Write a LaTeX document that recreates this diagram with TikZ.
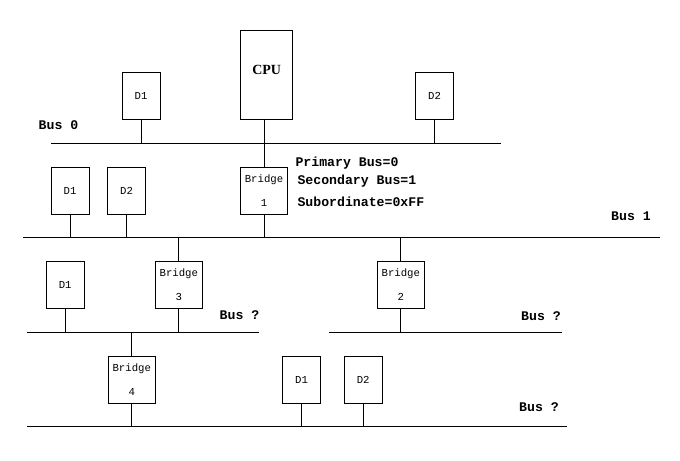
\documentclass[tikz,border=0pt]{standalone}
\usepackage{fontspec}
\setmainfont{Liberation Serif}
\setmonofont{Liberation Mono}
\usepackage{tikz}
\tikzset{dev/.style={draw, minimum width=28.5pt, minimum height=35.25pt, inner sep=0pt,
   font=\ttfamily\fontsize{8}{9}\selectfont},
 bridgebox/.style={dev, minimum width=35.25pt, align=center},
 cpubox/.style={draw, minimum width=39pt, minimum height=67pt, inner sep=0pt,
   text depth=7pt, font=\bfseries\fontsize{10.5}{13}\selectfont},
 buslabel/.style={inner sep=0pt, font=\ttfamily\bfseries\fontsize{9.9}{11}\selectfont},
 }

\begin{document}
\begin{tikzpicture}[x=0.75pt, y=-0.75pt, line width=0.75pt]
    \useasboundingbox (0,0) rectangle (680,460);
    \coordinate (bus0l) at (51,143.3);
    \coordinate (bus0r) at (501,143.3);
    \coordinate (bus1l) at (23,237.7);
    \coordinate (bus1r) at (660,237.7);
    \coordinate (bus3l) at (27,332);
    \coordinate (bus3r) at (259.3,332);
    \coordinate (bus2l) at (329.3,332);
    \coordinate (bus2r) at (561.7,332);
    \coordinate (bus4l) at (27,426);
    \coordinate (bus4r) at (566.7,426);
    \draw (bus0l) -- (bus0r);
    \draw (bus1l) -- (bus1r);
    \draw (bus3l) -- (bus3r);
    \draw (bus2l) -- (bus2r);
    \draw (bus4l) -- (bus4r);

    \node[cpubox] (cpu) at (266.7,74.7) {CPU};
    \node[dev] (d1a) at (141,95.5) {D1};
    \node[dev] (d2a) at (434.5,95.8) {D2};
    \node[bridgebox] (br1) at (264,190.7) {Bridge\\[9pt]1};
    \node[dev] (d1b) at (70,190.5) {D1};
    \node[dev] (d2b) at (126.5,190.5) {D2};
    \node[dev] (d1c) at (65.2,284.8) {D1};
    \node[bridgebox] (br3) at (178.8,284.8) {Bridge\\[9pt]3};
    \node[bridgebox] (br2) at (400.8,284.8) {Bridge\\[9pt]2};
    \node[bridgebox] (br4) at (131.8,380) {Bridge\\[9pt]4};
    \node[dev] (d1d) at (301.5,380) {D1};
    \node[dev] (d2d) at (363.2,380) {D2};

    \draw (d1a.south) -- (d1a.south |- bus0l);
    \draw (d2a.south) -- (d2a.south |- bus0l);
    \draw (br1.north) -- (br1.north |- cpu.south);
    \draw (br1.south) -- (br1.south |- bus1l);
    \draw (d1b.south) -- (d1b.south |- bus1l);
    \draw (d2b.south) -- (d2b.south |- bus1l);
    \draw (br3.north) -- (br3.north |- bus1l);
    \draw (br2.north) -- (br2.north |- bus1l);
    \draw (d1c.south) -- (d1c.south |- bus3l);
    \draw (br3.south) -- (br3.south |- bus3l);
    \draw (br2.south) -- (br2.south |- bus2l);
    \draw (br4.north) -- (br4.north |- bus3l);
    \draw (br4.south) -- (br4.south |- bus4l);
    \draw (d1d.south) -- (d1d.south |- bus4l);
    \draw (d2d.south) -- (d2d.south |- bus4l);

    \node[buslabel] (lbus0) at (58.5,125) {Bus 0};
    \node[buslabel] (lbus1) at (631,216) {Bus 1};
    \node[buslabel] (lbus3) at (239.5,315.5) {Bus ?};
    \node[buslabel] (lbus2) at (541,315.7) {Bus ?};
    \node[buslabel] (lbus4) at (539,407.5) {Bus ?};
    \node[buslabel, anchor=base west] (prim) at (295,166.5) {Primary Bus=0};
    \node[buslabel, anchor=base west] (sec) at (297,184) {Secondary Bus=1};
    \node[buslabel, anchor=base west] (sub) at (297,206) {Subordinate=0xFF};
\end{tikzpicture}
\end{document}
